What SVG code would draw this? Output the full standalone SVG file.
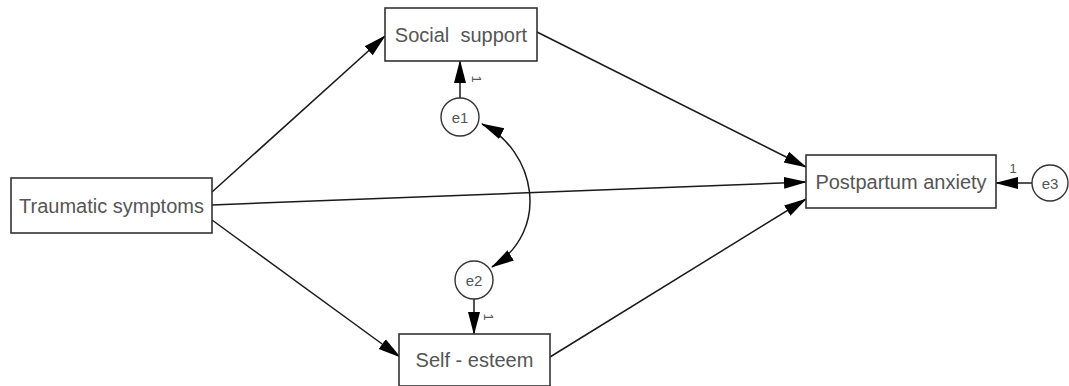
<svg xmlns="http://www.w3.org/2000/svg" width="1069" height="386" viewBox="0 0 1069 386">
<style>
.box{fill:#fff;stroke:#333;stroke-width:1.6}
.circ{fill:#fff;stroke:#333;stroke-width:1.4}
.lbl{font-family:"Liberation Sans",Arial,sans-serif;font-size:20px;fill:#555;text-anchor:middle;dominant-baseline:central}
.elbl{font-family:"Liberation Sans",Arial,sans-serif;font-size:15px;fill:#555;text-anchor:middle;dominant-baseline:central}
.one{font-family:"Liberation Sans",Arial,sans-serif;font-size:13px;fill:#555;text-anchor:middle;dominant-baseline:central}
.edge{fill:none;stroke:#1a1a1a;stroke-width:1.5}
</style>
<defs>
<marker id="ah" markerUnits="userSpaceOnUse" markerWidth="23" markerHeight="14" refX="22" refY="6" orient="auto-start-reverse" viewBox="0 0 23 12">
<path d="M0,0 L23,6 L0,12 Z" fill="#000"/>
</marker>
</defs>
<g id="connectors">
<line class="edge" x1="212" y1="192" x2="385" y2="36" marker-end="url(#ah)"/>
<line class="edge" x1="212" y1="205" x2="806" y2="182" marker-end="url(#ah)"/>
<line class="edge" x1="212" y1="220" x2="400" y2="357" marker-end="url(#ah)"/>
<line class="edge" x1="537" y1="32" x2="806" y2="167" marker-end="url(#ah)"/>
<line class="edge" x1="550" y1="357" x2="806" y2="199" marker-end="url(#ah)"/>
<line class="edge" x1="460" y1="98" x2="460" y2="61" marker-end="url(#ah)"/>
<line class="edge" x1="474" y1="299" x2="474" y2="334" marker-end="url(#ah)"/>
<line class="edge" x1="1032" y1="183" x2="996" y2="183" marker-end="url(#ah)"/>
<path class="edge" d="M482,124 C535,150 552,230 492,267" marker-start="url(#ah)" marker-end="url(#ah)"/>
<text class="one" transform="translate(476,79) rotate(90)">1</text>
<text class="one" transform="translate(488,317) rotate(90)">1</text>
<text class="one" x="1013" y="168">1</text>
</g>
<g id="traumatic">
<rect class="box" x="11" y="178" width="201" height="55"/>
<text class="lbl" x="111.5" y="206">Traumatic symptoms</text>
</g>
<g id="social">
<rect class="box" x="385" y="8" width="152" height="53"/>
<text class="lbl" x="461" y="35" xml:space="preserve">Social  support</text>
</g>
<g id="selfesteem">
<rect class="box" x="399" y="334" width="151" height="52"/>
<text class="lbl" x="474.5" y="360">Self - esteem</text>
</g>
<g id="postpartum">
<rect class="box" x="806" y="155" width="190" height="53"/>
<text class="lbl" x="901" y="182">Postpartum anxiety</text>
</g>
<g id="e1">
<circle class="circ" cx="460" cy="117" r="19"/>
<text class="elbl" x="460" y="117">e1</text>
</g>
<g id="e2">
<circle class="circ" cx="474" cy="280" r="19"/>
<text class="elbl" x="474" y="280">e2</text>
</g>
<g id="e3">
<circle class="circ" cx="1050" cy="183" r="18"/>
<text class="elbl" x="1050" y="183">e3</text>
</g>
</svg>
